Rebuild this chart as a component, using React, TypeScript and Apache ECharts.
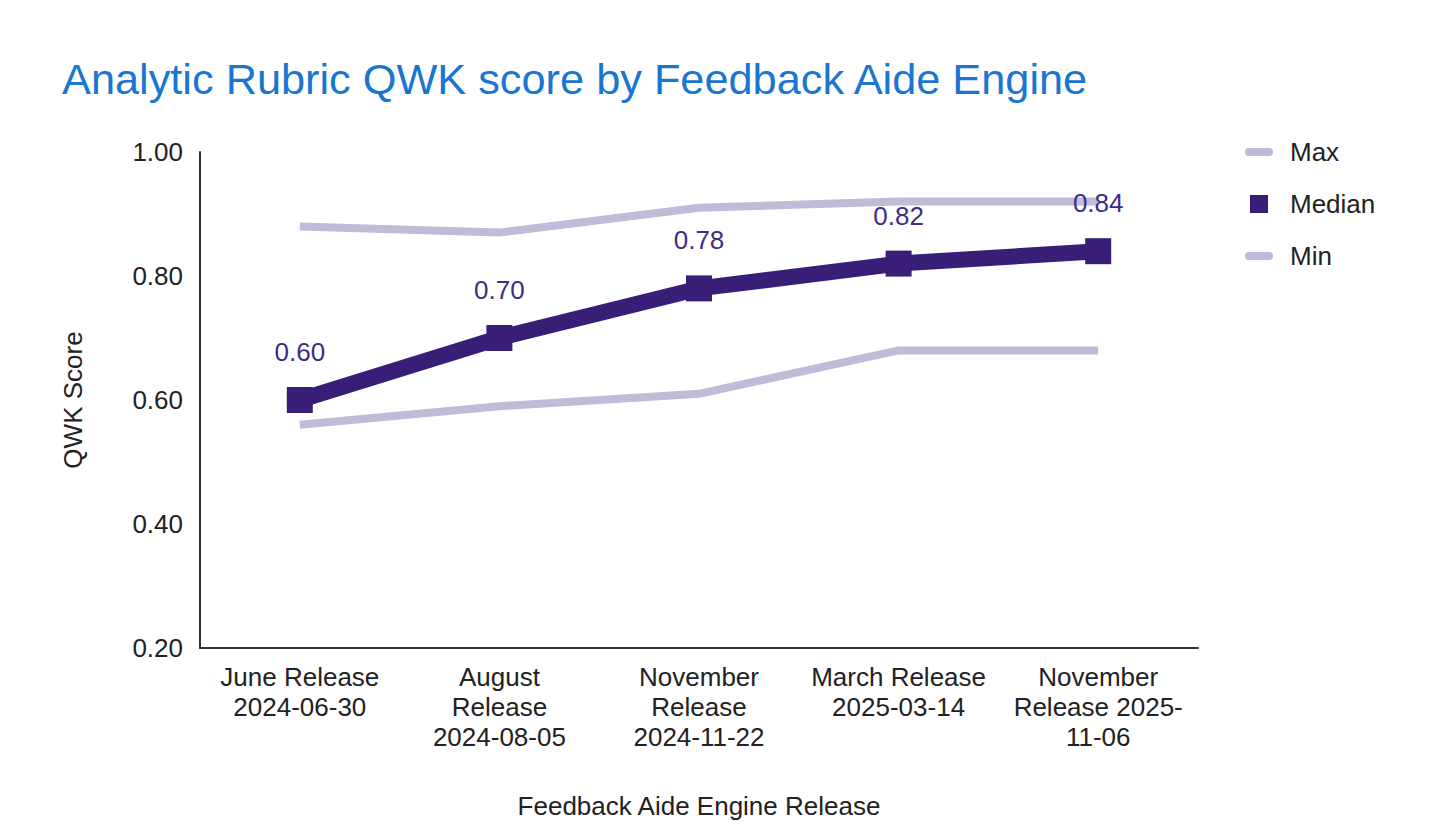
import React, { useEffect, useRef } from "react";
import * as echarts from "echarts";

const categories = [
  "June Release\n2024-06-30",
  "August\nRelease\n2024-08-05",
  "November\nRelease\n2024-11-22",
  "March Release\n2025-03-14",
  "November\nRelease 2025-\n11-06",
];
const maxValues = [0.88, 0.87, 0.91, 0.92, 0.92];
const medianValues = [0.6, 0.7, 0.78, 0.82, 0.84];
const minValues = [0.56, 0.59, 0.61, 0.68, 0.68];
const yTicks = { min: 0.2, max: 1.0, interval: 0.2 };

const FONT = "'Liberation Sans', Arial, sans-serif";
const LIGHT = "#c3b9d8";
const DARK = "#381e77";

export default function App() {
  const ref = useRef<HTMLDivElement>(null);
  useEffect(() => {
    if (!ref.current) return;
    const chart = echarts.init(ref.current, undefined, { renderer: "svg" });
    chart.setOption({
      animation: false,
      textStyle: { fontFamily: FONT },
      title: {
        text: "Analytic Rubric QWK score by Feedback Aide Engine",
        left: 54,
        top: 49,
        padding: 0,
        textStyle: { color: "#1976d2", fontSize: 43.3, fontWeight: "normal", fontFamily: FONT },
      },
      legend: {
        orient: "vertical",
        left: 1232,
        top: 126,
        itemWidth: 28,
        itemHeight: 18,
        itemGap: 26,
        textStyle: { fontSize: 26, color: "#222", fontFamily: FONT, padding: [0, 0, 0, 12] },
        data: [
          { name: "Max", icon: "path://M4,0L24,0A4,4,0,0,1,24,8L4,8A4,4,0,0,1,4,0Z" },
          { name: "Median", icon: "path://M0,0L18,0L18,18L0,18Z" },
          { name: "Min", icon: "path://M4,0L24,0A4,4,0,0,1,24,8L4,8A4,4,0,0,1,4,0Z" },
        ],
      },
      grid: { left: 192, right: 234, top: 144, bottom: 183, containLabel: false },
      xAxis: {
        type: "category",
        data: categories,
        boundaryGap: true,
        name: "Feedback Aide Engine Release",
        nameLocation: "middle",
        nameGap: 145,
        nameTextStyle: { fontSize: 26, color: "#222", fontFamily: FONT },
        axisLine: { lineStyle: { color: "#333", width: 2 } },
        axisTick: { show: false },
        axisLabel: { fontSize: 26, color: "#222", lineHeight: 30, margin: 14, interval: 0, fontFamily: FONT },
      },
      yAxis: {
        type: "value",
        min: yTicks.min,
        max: yTicks.max,
        interval: yTicks.interval,
        name: "QWK Score",
        nameLocation: "middle",
        nameGap: 114,
        nameTextStyle: { fontSize: 26, color: "#222", fontFamily: FONT },
        axisLine: { show: true, lineStyle: { color: "#333", width: 2 } },
        axisTick: { show: false },
        splitLine: { show: false },
        axisLabel: {
          fontSize: 26,
          color: "#222",
          margin: 17,
          fontFamily: FONT,
          formatter: (v: number) => v.toFixed(2),
        },
      },
      series: [
        {
          name: "Max",
          type: "line",
          data: maxValues,
          showSymbol: false,
          symbol: "none",
          itemStyle: { color: LIGHT },
          lineStyle: { color: LIGHT, width: 8 },
          z: 2,
        },
        {
          name: "Min",
          type: "line",
          data: minValues,
          showSymbol: false,
          symbol: "none",
          itemStyle: { color: LIGHT },
          lineStyle: { color: LIGHT, width: 8 },
          z: 2,
        },
        {
          name: "Median",
          type: "line",
          data: medianValues,
          symbol: "rect",
          symbolSize: 26,
          itemStyle: { color: DARK },
          lineStyle: { color: DARK, width: 16 },
          z: 3,
          label: {
            show: true,
            position: "top",
            distance: 22,
            fontSize: 26,
            color: "#3e2d85",
            fontFamily: FONT,
            formatter: (p: any) => Number(p.value).toFixed(2),
          },
        },
      ],
    });
    return () => chart.dispose();
  }, []);
  return <div ref={ref} style={{ width: 1424, height: 823 }} />;
}
